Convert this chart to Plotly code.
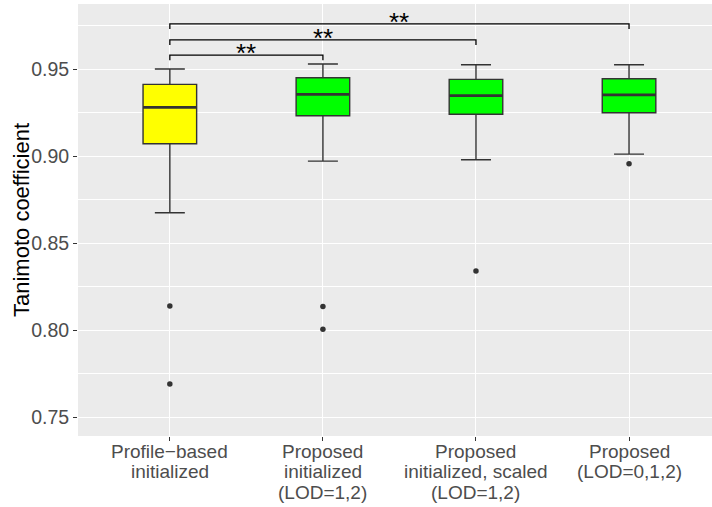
import plotly.graph_objects as go

# Group labels and summary statistics (Tanimoto coefficient)
groups = [
    "Profile\u2212based\ninitialized",
    "Proposed\ninitialized\n(LOD=1,2)",
    "Proposed\ninitialized, scaled\n(LOD=1,2)",
    "Proposed\n(LOD=0,1,2)",
]
fills = ["#FFFF00", "#00FF00", "#00FF00", "#00FF00"]
lower_whisker = [0.8674, 0.8971, 0.8979, 0.9011]
q1 = [0.9071, 0.9232, 0.9240, 0.9249]
median = [0.9280, 0.9355, 0.9347, 0.9352]
q3 = [0.9412, 0.9450, 0.9441, 0.9444]
upper_whisker = [0.9500, 0.9529, 0.9525, 0.9525]
outliers = [[0.8138, 0.7690], [0.8135, 0.8005], [0.8339], [0.8956]]

# Pairwise comparisons: (group a, group b, bracket height, label)
comparisons = [(0, 1, 0.9580, "**"), (0, 2, 0.9668, "**"), (0, 3, 0.9760, "**")]
y_ticks = [0.75, 0.80, 0.85, 0.90, 0.95]
y_minor = [0.775, 0.825, 0.875, 0.925, 0.975]

box_width = 0.35
line_col = "#333333"
drop = 0.003
FONT = "Liberation Sans"

fig = go.Figure()
xs = list(range(len(groups)))
for i in xs:
    fig.add_trace(go.Box(
        x=[i], q1=[q1[i]], median=[median[i]], q3=[q3[i]],
        lowerfence=[lower_whisker[i]], upperfence=[upper_whisker[i]],
        width=box_width, whiskerwidth=0.56, boxpoints=False,
        fillcolor=fills[i], line=dict(color=line_col, width=1.4),
        showlegend=False, hoverinfo="skip",
    ))
    # thicker median bar
    fig.add_trace(go.Scatter(
        x=[i - box_width / 2, i + box_width / 2], y=[median[i], median[i]],
        mode="lines", line=dict(color=line_col, width=2.8),
        showlegend=False, hoverinfo="skip",
    ))
    fig.add_trace(go.Scatter(
        x=[i] * len(outliers[i]), y=outliers[i], mode="markers",
        marker=dict(color=line_col, size=5.5), showlegend=False,
    ))
    # category label, one line per annotation for tight line spacing
    for k, line in enumerate(groups[i].split("\n")):
        fig.add_annotation(
            x=i, xref="x", y=0, yref="paper", text=line, showarrow=False,
            yanchor="middle", xanchor="center", yshift=-15 - 20.5 * k,
            font=dict(size=19, color="#4D4D4D", family=FONT),
        )

for a, b, h, lab in comparisons:
    fig.add_trace(go.Scatter(
        x=[a, a, b, b], y=[h - drop, h, h, h - drop], mode="lines",
        line=dict(color="black", width=1.3), showlegend=False, hoverinfo="skip",
    ))
    fig.add_annotation(x=(a + b) / 2, y=h, text=lab, showarrow=False,
                       yanchor="bottom", yshift=-15,
                       font=dict(size=26, color="black", family=FONT))

# y axis title
fig.add_annotation(
    x=0, xref="paper", y=0.5, yref="paper", xshift=-57, text="Tanimoto coefficient",
    textangle=-90, showarrow=False, xanchor="center", yanchor="middle",
    font=dict(size=22, color="black", family=FONT),
)

fig.update_layout(
    width=712, height=507,
    margin=dict(l=78, r=0, t=4, b=71, autoexpand=False),
    paper_bgcolor="white", plot_bgcolor="#EBEBEB",
    font=dict(family=FONT, color="#4D4D4D"),
)
fig.update_xaxes(
    range=[-0.6, 3.542], tickvals=xs, showticklabels=False, automargin=False,
    showgrid=True, gridcolor="white", gridwidth=1.4, zeroline=False,
    ticks="outside", ticklen=4, tickcolor=line_col, tickwidth=1, showline=False,
)
fig.update_yaxes(
    range=[0.7391, 0.9874], tickvals=y_ticks, automargin=False,
    ticktext=[f"{v:.2f}" for v in y_ticks],
    showgrid=True, gridcolor="white", gridwidth=1.4, zeroline=False,
    ticks="outside", ticklen=4, tickcolor=line_col, tickwidth=1,
    tickfont=dict(size=19.5, color="#4D4D4D"), showline=False,
    minor=dict(tickvals=y_minor, showgrid=True,
               gridcolor="white", gridwidth=0.7, ticks=""),
)

fig.write_html("out.html")
